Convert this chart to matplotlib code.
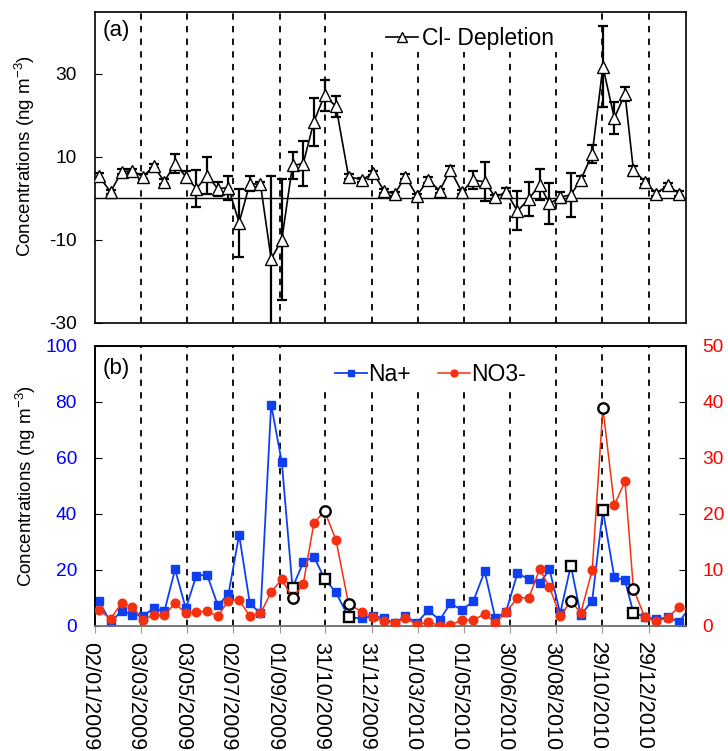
import pandas as pd
import numpy as np
import matplotlib
matplotlib.use('Agg')
import matplotlib.pyplot as plt
from matplotlib.patches import Rectangle
from matplotlib.transforms import ScaledTranslation

plt.rcParams['font.family'] = ['Liberation Sans', 'DejaVu Sans']
plt.rcParams['mathtext.fontset'] = 'custom'
plt.rcParams['mathtext.rm'] = 'Liberation Sans'
plt.rcParams['mathtext.default'] = 'regular'
plt.rcParams['axes.unicode_minus'] = False
plt.rcParams['axes.linewidth'] = 1.2

# sample days, counted from 02/01/2009
days = [5, 20.5, 35, 49, 63, 77, 91, 105, 119, 133, 147, 161, 175, 189, 203, 217, 231, 245,
        259, 273, 287, 301, 316, 332.5, 350, 365, 379, 393, 407, 422, 437, 452, 466, 481,
        496, 511, 525, 539, 554, 569, 583, 596, 610, 624, 637, 652, 666, 681, 695, 706,
        721, 736, 751, 766]
days_b = days + [781]

cl_dep = [5.3, 1.5, 6.4, 6.6, 5.2, 7.7, 4.0, 8.3, 5.2, 2.3, 5.4, 2.3, 2.5, -5.9, 3.5, 3.3,
          -14.7, -10.0, 7.9, 8.3, 18.4, 24.8, 22.1, 5.2, 4.4, 6.0, 1.8, 1.0, 5.2, 0.6, 4.4,
          1.8, 6.8, 1.5, 4.4, 3.9, 0.2, 1.5, -3.1, -0.2, 3.2, -1.3, 0.2, 0.8, 4.4, 10.6,
          31.7, 19.3, 25.1, 6.8, 4.0, 1.1, 3.1, 1.1]
cl_err = [0.8, 0.5, 0.5, 0.5, 0.5, 0.5, 0.6, 2.3, 1.4, 4.4, 4.4, 1.7, 2.9, 8.2, 1.9, 0.6,
          20.0, 14.6, 3.2, 5.4, 5.8, 3.8, 2.6, 0.5, 0.5, 0.5, 0.5, 0.5, 0.5, 0.5, 0.8,
          0.5, 1.0, 0.5, 2.1, 4.7, 0.5, 1.0, 4.7, 4.1, 3.7, 5.0, 1.3, 5.3, 1.0, 2.1,
          9.8, 3.9, 1.8, 1.0, 0.6, 0.5, 0.5, 0.5]

na = [8.9, 1.1, 5.4, 3.9, 3.5, 6.2, 5.2, 20.1, 6.2, 17.9, 18.2, 7.3, 11.2, 32.5, 8.0, 4.4,
      79.0, 58.3, 13.6, 22.6, 24.7, 16.8, 11.9, 3.0, 2.6, 3.5, 2.6, 0.8, 3.5, 1.0, 5.5,
      2.0, 8.0, 5.6, 8.7, 19.4, 2.6, 5.0, 18.7, 16.6, 15.1, 20.1, 4.4, 21.5, 3.7, 9.0,
      41.2, 17.3, 16.2, 4.6, 3.2, 2.3, 3.0, 1.4, 6.9]
no3 = [2.8, 1.25, 4.05, 3.3, 1.1, 1.85, 1.9, 4.0, 2.2, 2.5, 2.55, 1.7, 4.5, 4.6, 1.7, 2.2,
       6.0, 8.3, 4.9, 7.4, 18.3, 20.5, 15.3, 3.9, 2.5, 1.5, 0.8, 0.5, 1.4, 0.1, 0.7,
       0.0, 0.1, 1.0, 1.0, 2.1, 0.5, 2.4, 5.0, 5.0, 10.1, 6.9, 1.7, 4.4, 2.3, 9.9,
       38.9, 21.5, 25.8, 6.6, 1.5, 0.8, 1.4, 3.4, 2.7]

# samples ringed in black
events = [18, 21, 23, 43, 46, 49]

date_labels = ['02/01/2009', '03/03/2009', '03/05/2009', '02/07/2009', '01/09/2009',
               '31/10/2009', '31/12/2009', '01/03/2010', '01/05/2010', '30/06/2010',
               '30/08/2010', '29/10/2010', '29/12/2010']
tick_days = (pd.to_datetime(date_labels, dayfirst=True) - pd.Timestamp('2009-01-02')).days
tick_days = list(tick_days)

W, H = 728, 751
fig = plt.figure(figsize=(W / 100, H / 100), dpi=100)
ax1 = fig.add_axes([95 / W, 1 - 322.5 / H, 591 / W, 311 / H])
ax2 = fig.add_axes([95 / W, 1 - 625.7 / H, 591 / W, 280 / H])

xmax = 775
red = '#F4300F'
blue = '#0F40F0'

# (a)
ax1.set_xlim(0, xmax)
ax1.set_ylim(-30, 45)
for d in tick_days[1:]:
    ax1.axvline(d, color='k', lw=1.3, ls=(0, (3.5, 3.5)), zorder=1)
# white legend box hides the dashed lines
ax1.add_patch(Rectangle((265 / 591, 1 - 40 / 311), 198 / 591, 39 / 311, transform=ax1.transAxes,
                        fc='white', ec='none', zorder=1.5))
ax1.axhline(0, color='k', lw=1.0, zorder=1)
ax1.errorbar(days, cl_dep, yerr=cl_err, fmt='none', ecolor='k', elinewidth=1.6,
             capsize=3.5, capthick=1.6, zorder=2)
ax1.plot(days, cl_dep, color='k', lw=1.2, marker='^', ms=9, mfc='white', mec='k', mew=1.0,
         label='Cl- Depletion', zorder=3)
ax1.set_yticks([-30, -10, 10, 30])
ax1.set_xticks(tick_days)
ax1.tick_params(axis='x', length=0, labelbottom=False)
ax1.tick_params(axis='y', direction='in', length=5, labelsize=13.8, pad=13)
ax1.set_ylabel('Concentrations (ng m$^{-3}$)', fontsize=13.5)
ax1.yaxis.set_label_coords(-0.098, 0.535)
ax1.text(10.5, 40.5, '(a)', fontsize=16, va='center')
ax1.legend(loc='upper left', bbox_to_anchor=(283 / 591, 1 - 7 / 311), fontsize=16.5, frameon=False,
           handlelength=1.4, handletextpad=0.15, borderpad=0.25, borderaxespad=0.1, markerscale=0.8)

# (b)
ax2.set_xlim(0, xmax)
ax2.set_ylim(0, 100)
for d in tick_days[1:]:
    ax2.axvline(d, color='k', lw=1.3, ls=(0, (3.5, 3.5)), zorder=1)
ax2.add_patch(Rectangle((225 / 591, 1 - 46 / 280), 210 / 591, 45 / 280, transform=ax2.transAxes,
                        fc='white', ec='none', zorder=1.5))
line_na, = ax2.plot(days_b, na, color=blue, lw=1.3, marker='s', ms=6.2, label='Na+', zorder=3)
ax2.set_xticks(tick_days)
ax2.set_xticklabels(date_labels, rotation=270, fontsize=15.5)
ax2.tick_params(axis='x', direction='out', length=5, color='#999999', pad=6.5)
# date labels sit a little left of their ticks
shift = ScaledTranslation(-5 / 100, 0, fig.dpi_scale_trans)
for lab in ax2.get_xticklabels():
    lab.set_transform(lab.get_transform() + shift)
ax2.set_yticks([0, 20, 40, 60, 80, 100])
ax2.tick_params(axis='y', direction='in', length=5, labelsize=13.8, labelcolor='#0000FF', pad=13)
ax2.set_ylabel('Concentrations (ng m$^{-3}$)', fontsize=13.5)
ax2.yaxis.set_label_coords(-0.096, 0.5)
ax2.text(10.5, 92, '(b)', fontsize=16, va='center')
ax2.plot([days_b[i] for i in events], [na[i] for i in events], ls='none', marker='s', ms=7.5,
         mfc='white', mec='k', mew=1.7, zorder=5)
ax2.spines['bottom'].set_color('#777777')

ax3 = ax2.twinx()
ax3.set_ylim(0, 50)
line_no3, = ax3.plot(days_b, no3, color=red, lw=1.1, marker='o', ms=6.2, label='NO3-', zorder=3)
ax3.plot([days_b[i] for i in events], [no3[i] for i in events], ls='none', marker='o', ms=7.5,
         mfc='white', mec='k', mew=1.7, zorder=5)
ax3.set_yticks([0, 10, 20, 30, 40, 50])
ax3.tick_params(axis='y', direction='in', length=5, labelsize=13.8, labelcolor='#FF0000', pad=12)
ax3.spines['bottom'].set_color('#777777')
ax3.legend([line_na, line_no3], ['Na+', 'NO3-'], loc='upper left', ncol=2,
           bbox_to_anchor=(232 / 591, 1 - 9 / 280), fontsize=16.5, frameon=False,
           handlelength=1.4, handletextpad=0.05, columnspacing=1.2, borderpad=0.25,
           borderaxespad=0.1, markerscale=0.8)

fig.savefig('out.png', dpi=100)
